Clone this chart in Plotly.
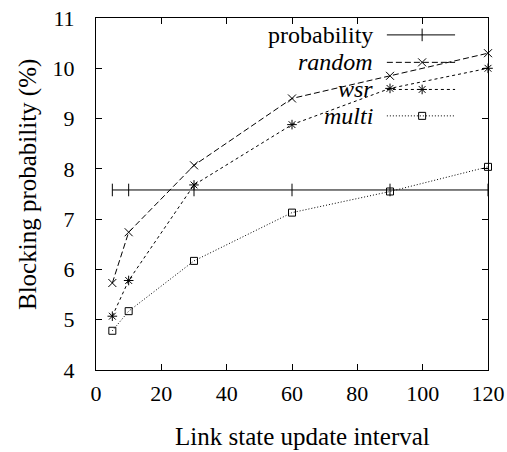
import plotly.graph_objects as go

intervals = [5, 10, 30, 60, 90, 120]
probability = [7.58, 7.58, 7.58, 7.58, 7.58, 7.58]
random_vals = [5.73, 6.74, 8.07, 9.40, 9.85, 10.30]
wsr_vals = [5.07, 5.78, 7.68, 8.88, 9.60, 10.00]
multi_vals = [4.78, 5.17, 6.17, 7.13, 7.55, 8.04]

series_names = ["probability", "random", "wsr", "multi"]
x_ticks = [0, 20, 40, 60, 80, 100, 120]
y_ticks = [4, 5, 6, 7, 8, 9, 10, 11]

FONT = "Liberation Serif, Times New Roman, DejaVu Serif, serif"
styles = {
    "probability": dict(dash="solid", symbol="line-ns", size=9),
    "random": dict(dash="6px,3px", symbol="x-thin", size=8),
    "wsr": dict(dash="3px,3px", symbol="asterisk", size=8),
    "multi": dict(dash="1px,2px", symbol="square-open", size=7),
}
data = {
    "probability": probability,
    "random": random_vals,
    "wsr": wsr_vals,
    "multi": multi_vals,
}

fig = go.Figure()
for name in series_names:
    st = styles[name]
    fig.add_trace(go.Scatter(
        x=intervals, y=data[name], mode="lines+markers", name=name,
        line=dict(color="black", width=1, dash=st["dash"]),
        marker=dict(symbol=st["symbol"], size=st["size"], color="black",
                    line=dict(color="black", width=1)),
        cliponaxis=False, showlegend=False,
    ))

# custom legend (text right-aligned, sample to the right) on an overlay axis
leg_y = [0.952, 0.874, 0.797, 0.722]
for name, yy in zip(series_names, leg_y):
    st = styles[name]
    fig.add_trace(go.Scatter(
        x=[0.742, 0.916], y=[yy, yy], mode="lines", xaxis="x2", yaxis="y2",
        line=dict(color="black", width=1, dash=st["dash"]),
        showlegend=False, hoverinfo="skip", cliponaxis=False,
    ))
    fig.add_trace(go.Scatter(
        x=[0.832], y=[yy], mode="markers", xaxis="x2", yaxis="y2",
        marker=dict(symbol=st["symbol"], size=st["size"], color="black",
                    line=dict(color="black", width=1)),
        showlegend=False, hoverinfo="skip", cliponaxis=False,
    ))
    fig.add_annotation(
        x=0.712, y=yy, xref="x2", yref="y2", text=name, showarrow=False,
        xanchor="right", yanchor="middle",
        font=dict(family=FONT, size=24, color="black",
                  style="normal" if name == "probability" else "italic"),
    )

# axis titles
fig.add_annotation(
    x=-0.173, y=0.526, xref="paper", yref="paper",
    text="Blocking probability (%)", textangle=-90, showarrow=False,
    xanchor="center", yanchor="middle",
    font=dict(family=FONT, size=25, color="black"),
)
fig.add_annotation(
    x=0.528, y=-0.19, xref="paper", yref="paper",
    text="Link state update interval", showarrow=False,
    xanchor="center", yanchor="middle",
    font=dict(family=FONT, size=25, color="black"),
)

axis_common = dict(
    showline=True, linecolor="black", linewidth=1, mirror="ticks",
    ticks="inside", ticklen=6, tickcolor="black", showgrid=False,
    zeroline=False, automargin=False,
    tickfont=dict(family=FONT, size=22, color="black"),
)
fig.update_layout(
    width=507, height=452,
    margin=dict(l=96, r=19, t=18, b=82),
    plot_bgcolor="white", paper_bgcolor="white",
    xaxis=dict(range=[0, 120], tickvals=x_ticks, ticklabelstandoff=4,
               **axis_common),
    yaxis=dict(range=[4, 11], tickvals=y_ticks, ticklabelstandoff=16,
               **axis_common),
    xaxis2=dict(range=[0, 1], overlaying="x", visible=False),
    yaxis2=dict(range=[0, 1], overlaying="y", visible=False),
)

fig.write_html("out.html", config={"displayModeBar": False},
               post_script="document.body.style.margin='0px';")
